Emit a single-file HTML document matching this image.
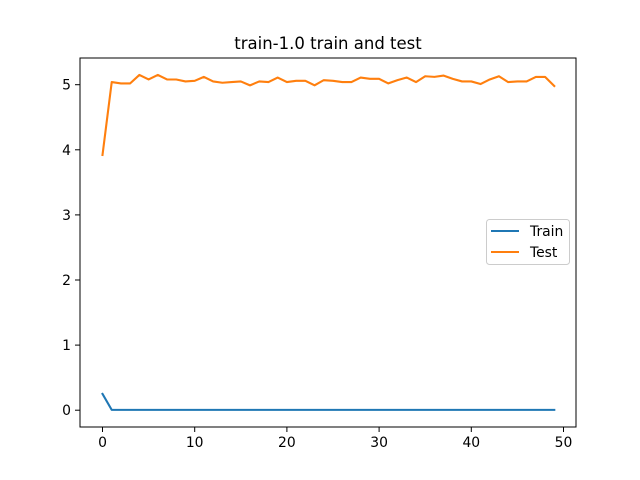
<!DOCTYPE html>
<html><head><meta charset="utf-8"><style>
body{margin:0;background:#fff;}
svg{display:block;font-family:"DejaVu Sans","Liberation Sans",sans-serif;}
</style></head><body>
<svg id="chart" width="640" height="480">
<text x="328" y="49" text-anchor="middle" font-size="16.5">train-1.0 train and test</text>
<g id="plot"></g>
<rect x="80" y="58" width="496" height="369" fill="none" stroke="#000" stroke-width="1"/>
<g>
<rect x="486.5" y="219.5" width="83" height="45" rx="3" fill="#fff" stroke="#ccc"/>
<line x1="491" y1="231" x2="519" y2="231" stroke="#1f77b4" stroke-width="2"/>
<text x="530" y="236" font-size="13.9">Train</text>
<line x1="491" y1="252" x2="519" y2="252" stroke="#ff7f0e" stroke-width="2"/>
<text x="530" y="257" font-size="13.9">Test</text>
</g>
</svg>
<script>
const epochs = Array.from({length:50},(_,i)=>i);
const trainLoss = [0.25].concat(Array(49).fill(0.005));
const testLoss = [3.92,5.04,5.02,5.02,5.15,5.08,5.15,5.08,5.08,5.05,5.06,5.12,5.05,5.03,5.04,5.05,4.99,5.05,5.04,5.11,5.04,5.06,5.06,4.99,5.07,5.06,5.04,5.04,5.11,5.09,5.09,5.02,5.07,5.11,5.04,5.13,5.12,5.14,5.09,5.05,5.05,5.01,5.08,5.13,5.04,5.05,5.05,5.12,5.12,4.98];
const xTicks = [0,10,20,30,40,50];
const yTicks = [0,1,2,3,4,5];
const NS="http://www.w3.org/2000/svg";
const xs = v => 102.5 + v*(563.5-102.5)/50;
const ys = v => 410.2 - v*65.1;
const g = document.getElementById('plot');
function mk(t,a){const e=document.createElementNS(NS,t);for(const k in a)e.setAttribute(k,a[k]);g.appendChild(e);return e;}
xTicks.forEach(t=>{
  const l=mk('line',{x1:xs(t),x2:xs(t),y1:427,y2:432,stroke:'#000'});
  
  
  const tx=mk('text',{x:xs(t),y:447,'text-anchor':'middle','font-size':'13.9'});tx.textContent=t;
  
  
});
yTicks.forEach(t=>{
  const l=mk('line',{x1:75,x2:80,y1:ys(t),y2:ys(t),stroke:'#000'});
  
  
  const tx=mk('text',{x:71,y:ys(t)+5,'text-anchor':'end','font-size':'13.9'});tx.textContent=t;
  
  
});
function line(vals,color,name){
  const p=mk('polyline',{points:vals.map((v,i)=>xs(epochs[i])+','+ys(v)).join(' '),fill:'none',stroke:color,'stroke-width':2.1,'stroke-linejoin':'round','stroke-linecap':'square'});
  
  
}
line(trainLoss,'#1f77b4','train-line');
line(testLoss,'#ff7f0e','test-line');
</script>
</body></html>
